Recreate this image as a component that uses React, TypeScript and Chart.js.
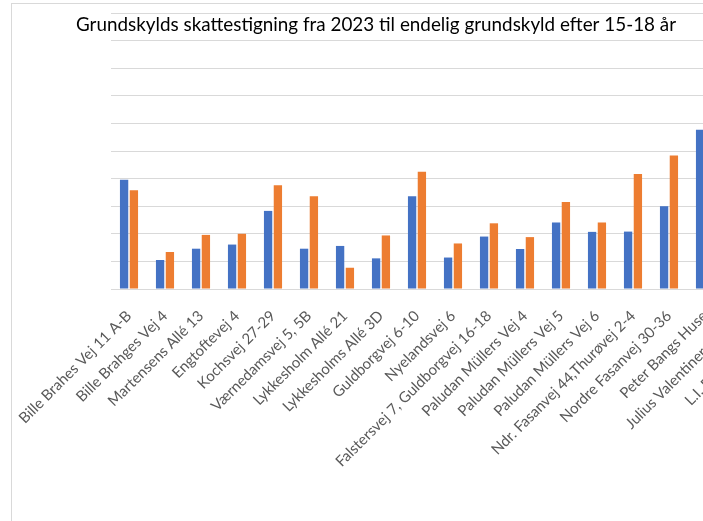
import { useEffect, useRef } from "react";
import { Chart, registerables } from "chart.js";

Chart.register(...registerables);

const TITLE = "Grundskylds skattestigning fra 2023 til endelig grundskyld efter 15-18 år";

const categories = [
  "Bille Brahes Vej 11 A-B",
  "Bille Brahges Vej 4",
  "Martensens Allé 13",
  "Engtoftevej 4",
  "Kochsvej 27-29",
  "Værnedamsvej 5, 5B",
  "Lykkesholm Allé 21",
  "Lykkesholms Allé 3D",
  "Guldborgvej 6-10",
  "Nyelandsvej 6",
  "Falstersvej 7, Guldborgvej 16-18",
  "Paludan Müllers Vej 4",
  "Paludan Müllers Vej 5",
  "Paludan Müllers Vej 6",
  "Ndr. Fasanvej 44,Thurøvej 2-4",
  "Nordre Fasanvej 30-36",
  "Peter Bangs Huse",
  "Julius Valentiners Vej 12",
  "L.I. Brandes Allé 12",
];

const series2023 = [3.96, 1.05, 1.46, 1.61, 2.83, 1.46, 1.56, 1.11, 3.36, 1.14, 1.9, 1.45, 2.41, 2.07, 2.08, 3.0, 5.77, 3.2, 2.4];
const seriesEndelig = [3.58, 1.34, 1.96, 2.0, 3.76, 3.36, 0.77, 1.94, 4.25, 1.65, 2.38, 1.88, 3.15, 2.41, 4.17, 4.84, 6.4, 4.0, 3.1];

const yMin = 0;
const yMax = 10;
const yStep = 1;

const CANVAS_W = 795;
const CANVAS_H = 560;

export default function App() {
  const ref = useRef<HTMLCanvasElement>(null);

  useEffect(() => {
    if (!ref.current) return;
    const titleSize = 18.85;
    const titleLH = 1.2;
    const padTop = 1;
    const chart = new Chart(ref.current, {
      type: "bar",
      data: {
        labels: categories,
        datasets: [
          {
            label: "2023",
            data: series2023,
            backgroundColor: "#4472C4",
            categoryPercentage: 0.544,
            barPercentage: 0.85,
          },
          {
            label: "Endelig",
            data: seriesEndelig,
            backgroundColor: "#ED7D31",
            categoryPercentage: 0.544,
            barPercentage: 0.85,
          },
        ],
      },
      options: {
        responsive: false,
        animation: false,
        devicePixelRatio: 1,
        layout: { padding: { left: 64, right: 12, top: 9, bottom: 0 } },
        plugins: {
          legend: { display: false },
          tooltip: { enabled: false },
          title: {
            display: true,
            text: TITLE,
            align: "start",
            color: "#000000",
            font: { family: "Lato", size: titleSize, weight: "normal", lineHeight: titleLH },
            padding: { top: padTop, bottom: -(titleSize * titleLH + padTop) },
          },
        },
        scales: {
          x: {
            grid: { display: false, drawTicks: false },
            border: { display: true, color: "#d9d9d9", width: 1 },
            ticks: {
              autoSkip: false,
              minRotation: 45,
              maxRotation: 45,
              color: "#595959",
              font: { family: "Lato", size: 15 },
              padding: 18,
            },
            afterFit: (s: any) => {
              s.height = CANVAS_H - 285;
              s.paddingLeft = 0;
              s.paddingRight = 0;
            },
          },
          y: {
            min: yMin,
            max: yMax,
            ticks: { display: false, stepSize: yStep },
            grid: { color: "#d9d9d9", lineWidth: 1, drawTicks: false },
            border: { display: false },
            afterFit: (s: any) => {
              s.width = 35;
            },
          },
        },
      },
    });
    return () => chart.destroy();
  }, []);

  return (
    <div
      style={{
        position: "fixed",
        left: 0,
        top: 0,
        width: "100vw",
        height: "100vh",
        overflow: "hidden",
        background: "#ffffff",
      }}
    >
      <div
        style={{
          position: "absolute",
          left: 11,
          top: 3,
          width: 900,
          height: 700,
          borderLeft: "1px solid #d9d9d9",
          borderTop: "1px solid #d9d9d9",
        }}
      />
      <canvas
        ref={ref}
        width={CANVAS_W}
        height={CANVAS_H}
        style={{ position: "absolute", left: 12, top: 4 }}
      />
    </div>
  );
}
